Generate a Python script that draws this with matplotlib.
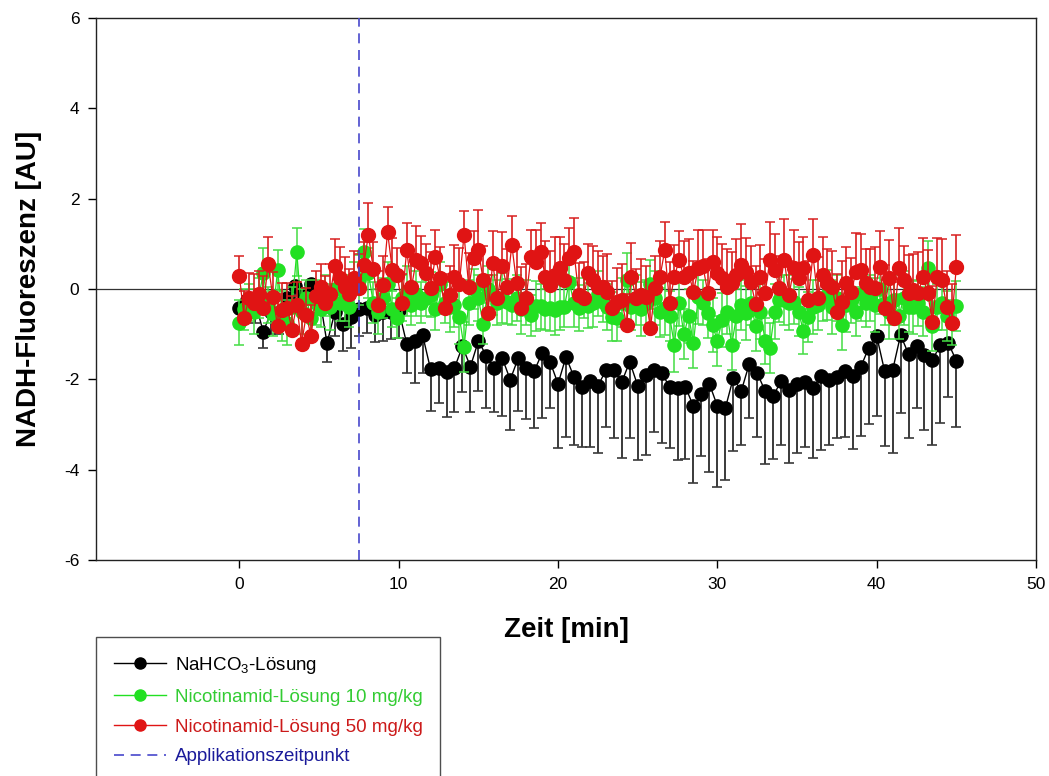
import numpy as np
import matplotlib
matplotlib.use('Agg')
import matplotlib.pyplot as plt
from matplotlib.lines import Line2D

plt.rcParams['font.family'] = ['Liberation Sans', 'DejaVu Sans']
plt.rcParams['mathtext.fontset'] = 'custom'
plt.rcParams['mathtext.rm'] = 'Liberation Sans'
plt.rcParams['mathtext.it'] = 'Liberation Sans:italic'
plt.rcParams['axes.unicode_minus'] = False

# ---- data ----
# NaHCO3 group, sampled every 0.5 min
t_nahco3 = np.arange(0, 45.01, 0.5)
nahco3 = [
    -0.42, -0.25, -0.3, -0.95, -0.5, -0.6, -0.2, 0.07, -0.1, 0.1,
    -0.1, -1.2, -0.5, -0.77, -0.62, -0.45, -0.42, -0.57, -0.5, -0.5,
    -0.46,
    -1.21, -1.16, -1.02, -1.78, -1.75, -1.83, -1.75, -1.27, -1.72, -1.15,
    -1.48, -1.75, -1.53, -2.01, -1.53, -1.75, -1.82, -1.42, -1.61, -2.1,
    -1.5, -1.95, -2.17, -2.04, -2.15, -1.8, -1.8, -2.06, -1.61, -2.14,
    -1.9, -1.8, -1.85, -2.17, -2.19, -2.17, -2.6, -2.32, -2.1, -2.59,
    -2.64, -1.97, -2.26, -1.66, -1.86, -2.26, -2.37, -2.04, -2.24, -2.1,
    -2.06, -2.19, -1.93, -2.01, -1.95, -1.82, -1.93, -1.73, -1.3, -1.04,
    -1.82, -1.8, -1.02, -1.44, -1.26, -1.46, -1.57, -1.24, -1.2, -1.59,
]
nahco3_err = [
    0.35, 0.4, 0.45, 0.35, 0.5, 0.4, 0.55, 0.45, 0.5, 0.4,
    0.45, 0.42, 0.55, 0.6, 0.68, 0.6, 0.55, 0.6, 0.65, 0.6,
    0.62,
    0.64, 0.93, 0.85, 0.93, 0.78, 1.0, 0.98, 1.0, 1.0, 1.1,
    1.16, 0.97, 1.28, 1.11, 1.17, 1.13, 1.26, 1.44, 1.03, 1.42,
    1.78, 1.5, 1.33, 1.46, 1.48, 1.26, 1.5, 1.68, 1.69, 1.65,
    1.77, 1.36, 1.56, 1.35, 1.6, 1.59, 1.69, 1.38, 1.95, 1.79,
    1.59, 1.62, 1.19, 1.2, 1.42, 1.61, 1.39, 1.41, 1.61, 1.53,
    1.44, 1.55, 1.63, 1.44, 1.35, 1.46, 1.61, 1.52, 1.69, 1.77,
    1.65, 1.83, 1.72, 1.86, 1.38, 1.66, 1.88, 1.73, 1.19, 1.47,
]

# Nicotinamid groups, sampled every 0.3 min
t_nico = np.round(np.arange(151) * 0.3, 1)
nico10 = [
    -0.75, -0.45, -0.3, -0.5, -0.2, 0.35, -0.35, -0.55, 0.42, -0.6,
    -0.75, -0.4, 0.82, -0.5, -0.2, -0.65, -0.3, -0.45, -0.15, -0.4,
    0.0, -0.3, -0.2, -0.39, 0.1, 0.2, 0.82, 0.35, -0.3, -0.5,
    -0.2, 0.1, -0.45, -0.64, -0.2, -0.05, -0.35, -0.1, -0.3, -0.2,
    -0.13, -0.45, 0.1, -0.3, -0.4, -0.35, -0.61, -1.28, -0.3, 0.0,
    -0.2, -0.77, 0.0, -0.13, -0.3, -0.2, -0.28, -0.35, -0.2, -0.45,
    -0.3, -0.58, -0.38, -0.38, -0.45, -0.42, -0.46, -0.4, -0.39, 0.16,
    -0.3, -0.42, -0.2, -0.37, -0.3, -0.1, -0.28, -0.4, -0.61, -0.65,
    -0.3, 0.2, -0.4, -0.25, -0.45, -0.3, 0.1, -0.2, -0.52, -0.42,
    -0.6, -1.24, -0.3, -1.0, -0.6, -1.2, -0.17, -0.3, -0.54, -0.8,
    -1.15, -0.69, -0.5, -1.24, -0.6, -0.35, -0.54, -0.3, -0.83, -0.5,
    -1.15, -1.3, -0.5, -0.24, -0.24, -0.3, -0.28, -0.5, -0.94, -0.62,
    -0.4, -0.35, -0.2, -0.13, -0.4, -0.2, -0.8, -0.35, -0.25, -0.5,
    -0.1, -0.3, -0.2, -0.35, 0.0, -0.3, -0.5, -0.24, -0.6, -0.2,
    -0.4, -0.4, -0.32, -0.5, 0.46, -0.82, -0.4, -0.3, -0.6, -0.75,
    -0.38,
]
nico10_err = [
    0.5, 0.45, 0.4, 0.5, 0.45, 0.55, 0.4, 0.5, 0.45, 0.55,
    0.5, 0.45, 0.53, 0.5, 0.4, 0.45, 0.5, 0.4, 0.45, 0.5,
    0.45, 0.4, 0.5, 0.45, 0.5, 0.55, 0.5, 0.55, 0.45, 0.5,
    0.45, 0.5, 0.4, 0.45, 0.5, 0.55, 0.45, 0.5, 0.45, 0.4,
    0.5, 0.45, 0.5, 0.45, 0.55, 0.5, 0.6, 0.55, 0.5, 0.45,
    0.5, 0.45, 0.5, 0.45, 0.5, 0.55, 0.5, 0.45, 0.5, 0.55,
    0.5, 0.45, 0.55, 0.5, 0.45, 0.5, 0.55, 0.5, 0.45, 0.5,
    0.55, 0.5, 0.45, 0.5, 0.55, 0.5, 0.45, 0.5, 0.55, 0.5,
    0.55, 0.6, 0.5, 0.55, 0.6, 0.5, 0.55, 0.6, 0.55, 0.6,
    0.55, 0.6, 0.53, 0.55, 0.6, 0.55, 0.6, 0.5, 0.55, 0.6,
    0.55, 0.6, 0.5, 0.55, 0.6, 0.55, 0.6, 0.5, 0.55, 0.6,
    0.5, 0.55, 0.6, 0.5, 0.55, 0.6, 0.5, 0.55, 0.5, 0.55,
    0.6, 0.55, 0.5, 0.55, 0.6, 0.5, 0.55, 0.6, 0.5, 0.55,
    0.6, 0.55, 0.5, 0.6, 0.55, 0.5, 0.6, 0.55, 0.5, 0.6,
    0.55, 0.6, 0.5, 0.55, 0.6, 0.55, 0.5, 0.6, 0.55, 0.5,
    0.55,
]
nico50 = [
    0.29, -0.64, -0.19, -0.31, -0.1, -0.42, 0.55, -0.17, -0.82, -0.47,
    -0.42, -0.9, -0.35, -1.21, -0.57, -1.05, -0.15, 0.05, -0.31, -0.1,
    0.51, 0.24, 0.05, -0.1, 0.24, 0.02, 0.53, 1.2, 0.44, -0.35,
    0.09, 1.26, 0.42, 0.31, -0.31, 0.86, 0.04, 0.64, 0.58, 0.35,
    0.02, 0.71, 0.24, -0.42, -0.13, 0.27, 0.11, 1.2, 0.04, 0.69,
    0.86, 0.2, -0.53, 0.58, -0.2, 0.51, 0.04, 0.97, 0.13, -0.42,
    -0.2, 0.71, 0.6, 0.82, 0.27, 0.09, 0.3, 0.46, 0.2, 0.69,
    0.82, -0.13, -0.2, 0.35, 0.2, 0.04, 0.04, -0.07, -0.42, -0.29,
    -0.25, -0.8, 0.27, -0.2, -0.13, -0.18, -0.86, 0.02, 0.27, 0.86,
    -0.31, 0.27, 0.64, 0.27, 0.35, -0.07, 0.46, 0.5, -0.09, 0.6,
    0.35, 0.24, 0.04, 0.13, 0.3, 0.53, 0.38, 0.15, -0.33, 0.27,
    -0.09, 0.64, 0.42, 0.02, 0.64, -0.13, 0.46, 0.24, 0.46, -0.24,
    0.75, -0.2, 0.31, 0.13, 0.04, -0.51, -0.29, 0.13, -0.07, 0.38,
    0.42, 0.13, 0.04, 0.02, 0.49, -0.42, 0.24, -0.64, 0.46, 0.2,
    -0.09, -0.02, -0.09, 0.27, -0.09, -0.73, 0.27, 0.2, -0.4, -0.75,
    0.49,
]
nico50_err = [
    0.45, 0.6, 0.55, 0.65, 0.5, 0.7, 0.6, 0.55, 0.7, 0.6,
    0.55, 0.75, 0.5, 0.65, 0.6, 0.7, 0.55, 0.5, 0.6, 0.65,
    0.6, 0.7, 0.65, 0.55, 0.6, 0.75, 0.5, 0.7, 0.6, 0.75,
    0.65, 0.56, 0.7, 0.6, 0.65, 0.6, 0.7, 0.75, 0.6, 0.65,
    0.8, 0.6, 0.7, 0.75, 0.65, 0.7, 0.8, 0.53, 0.75, 0.6,
    0.89, 0.75, 0.85, 0.7, 0.8, 0.75, 0.85, 0.65, 0.8, 0.9,
    0.75, 0.6, 0.7, 0.65, 0.8, 0.75, 0.85, 0.7, 0.8, 0.65,
    0.75, 0.7, 0.8, 0.65, 0.75, 0.8, 0.7, 0.85, 0.6, 0.75,
    0.8, 0.7, 0.75, 0.65, 0.8, 0.7, 0.75, 0.7, 0.8, 0.62,
    0.9, 0.7, 0.65, 0.8, 0.75, 0.7, 0.85, 0.8, 0.75, 0.7,
    0.8, 0.75, 0.85, 0.7, 0.8, 0.9, 0.75, 0.8, 0.85, 0.7,
    0.75, 0.85, 0.8, 0.7, 0.9, 0.75, 0.85, 0.8, 0.7, 0.85,
    0.8, 0.9, 0.85, 0.75, 0.8, 0.85, 0.9, 0.8, 0.75, 0.85,
    0.8, 0.75, 0.85, 0.9, 0.8, 0.95, 0.85, 0.8, 0.9, 0.75,
    0.85, 0.8, 0.9, 0.85, 0.95, 0.8, 0.85, 0.9, 0.8, 0.85,
    0.7,
]
application_time = 7.5

labels = ['NaHCO$_{\\mathit{3}}$-Lösung',
          'Nicotinamid-Lösung 10 mg/kg',
          'Nicotinamid-Lösung 50 mg/kg',
          'Applikationszeitpunkt']

# ---- plot ----
c_black = '#000000'
c_green = '#22e022'
c_red = '#e01414'
c_blue = '#4848cc'

fig = plt.figure(figsize=(10.49, 7.76), dpi=100)
ax = fig.add_axes([96 / 1049, 1 - 560 / 776, (1036 - 96) / 1049, (560 - 18) / 776])

ax.axhline(0, color='#333333', lw=0.9, zorder=1)

zeros_b = np.zeros(len(nahco3))
zeros_n = np.zeros(len(nico50))

ax.errorbar(t_nahco3, nahco3, yerr=[nahco3_err, zeros_b], fmt='-o',
            color=c_black, ms=9.5, lw=1.0, ecolor='#3a3a3a', elinewidth=1.4,
            capsize=3.5, capthick=1.2, zorder=2)
ax.errorbar(t_nico, nico10, yerr=nico10_err, fmt='-o',
            color=c_green, ms=9.5, lw=0.9, ecolor='#44dd44', elinewidth=1.1,
            capsize=3.5, capthick=1.1, zorder=3)
ax.errorbar(t_nico, nico50, yerr=[zeros_n, nico50_err], fmt='-o',
            color=c_red, ms=10, lw=0.9, ecolor='#d82020', elinewidth=1.2,
            capsize=3.5, capthick=1.1, zorder=4)
ax.axvline(application_time, color=c_blue, ls=(0, (6, 4)), lw=1.2, zorder=5)

ax.set_xlim(-9, 50)
ax.set_ylim(-6, 6)
ax.set_xticks([0, 10, 20, 30, 40, 50])
ax.set_yticks([-6, -4, -2, 0, 2, 4, 6])
ax.tick_params(direction='out', length=6, width=1, labelsize=12.5, pad=6)
for s in ax.spines.values():
    s.set_linewidth(1.0)
    s.set_color('#222222')

ax.set_xlabel('Zeit [min]', fontsize=20, fontweight='bold', labelpad=18)
ax.set_ylabel('NADH-Fluoreszenz [AU]', fontsize=20, fontweight='bold', labelpad=16)

handles = [
    Line2D([], [], color=c_black, marker='o', ms=8, lw=1.0),
    Line2D([], [], color=c_green, marker='o', ms=8, lw=1.0),
    Line2D([], [], color=c_red, marker='o', ms=8, lw=1.0),
    Line2D([], [], color=c_blue, ls=(0, (6, 4)), lw=1.2),
]
leg = fig.legend(handles, labels, loc='upper left',
                 bbox_to_anchor=(96 / 1049, 1 - 637 / 776), fontsize=13.5,
                 frameon=True, fancybox=False, edgecolor='#222222',
                 handlelength=2.8, handletextpad=0.45, labelspacing=0.68,
                 borderpad=0.95, borderaxespad=0)
leg.get_frame().set_linewidth(1.0)
for txt, col in zip(leg.get_texts(), ['#000000', '#33cc33', '#cc1a1a', '#1a1a9a']):
    txt.set_color(col)

fig.savefig('out.png', dpi=100, facecolor='white')
